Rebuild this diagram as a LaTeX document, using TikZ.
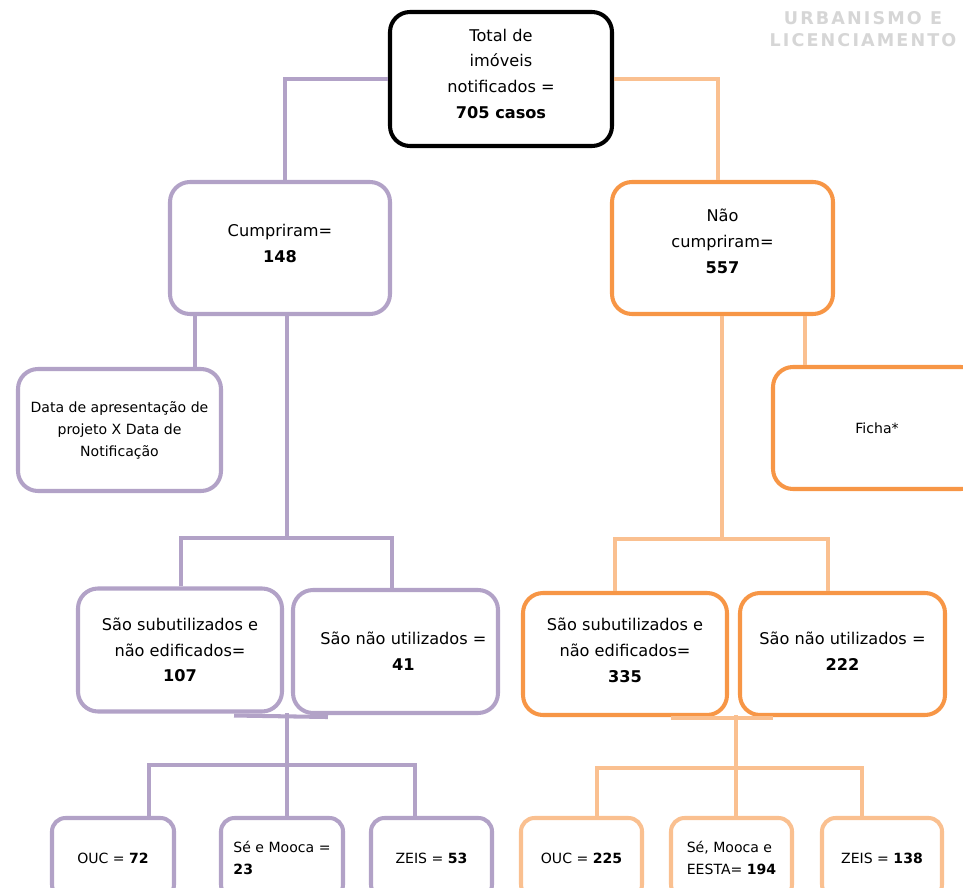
\documentclass[tikz,border=0pt]{standalone}
\usepackage{fontspec}
\setmainfont{DejaVu Sans}
\newfontfamily\stampfont[LetterSpace=12]{DejaVu Sans}
\usepackage{tikz}
\usetikzlibrary{calc}
\definecolor{lilac}{HTML}{B2A2C7}
\definecolor{tangerine}{HTML}{F79646}
\definecolor{peach}{HTML}{FAC090}
\newcommand{\boxFont}[0]{\fontsize{9.2}{14.6}\selectfont}
\newcommand{\smallFont}[0]{\fontsize{8}{12.5}\selectfont}

\begin{document}
\begin{tikzpicture}[x=0.02cm, y=-0.02cm]
  \tikzset{
    every node/.style={align=center, inner sep=0pt},
    wh/.style 2 args={minimum width=#1*0.02cm, minimum height=#2*0.02cm},
    card/.style={draw=#1, line width=2.3pt, rounded corners=0.4cm, fill=white, font=\boxFont},
    leaf/.style={card=#1, rounded corners=0.27cm, font=\smallFont},
    pline/.style={draw=lilac, line width=2.3pt},
    oline/.style={draw=peach, line width=2.3pt},
    stamp/.style={font={\stampfont\bfseries\fontsize{10}{12.5}\selectfont}, text=black!16}
  }
  \useasboundingbox (0,0) rectangle (963,888);

  \node[stamp] (stamp) at (863,29) {URBANISMO E\\LICENCIAMENTO};

  \node[card=black, wh={222}{134}] (T) at (501,79)
    {Total de\\imóveis\\notificados =\\\textbf{705 casos}\\[-8.5pt]};

  % cumpriram
  \node[card=lilac, wh={220}{132}] (C) at (280,248) {Cumpriram=\\\textbf{148}\\[-9pt]};
  \node[card=lilac, font=\smallFont, wh={203}{122}] (C-data) at (119.5,430)
    {Data de apresentação de\\projeto X Data de\\Notificação};
  \node[card=lilac, wh={204}{123}] (C-1) at (180,650)
    {São subutilizados e\\não edificados=\\\textbf{107}};
  \node[card=lilac, wh={205}{123}] (C-2) at (395.5,651.5)
    {\hspace{9pt}São não utilizados =\\\hspace{9pt}\textbf{41}};
  \node[leaf=lilac, wh={122}{80}] (C-1-1) at (113,858) {OUC = \textbf{72}};
  \node[leaf=lilac, wh={122}{80}, align=left] (C-1-2) at (282,858) {Sé e Mooca =\\\textbf{23}};
  \node[leaf=lilac, wh={121}{80}] (C-1-3) at (431.5,858) {ZEIS = \textbf{53}};

  % nao cumpriram
  \node[card=tangerine, wh={221}{132}] (N) at (722.5,248) {Não\\cumpriram=\\\textbf{557}\\[-6.8pt]};
  \node[card=tangerine, font=\smallFont, wh={208}{122}] (N-ficha) at (877,428) {Ficha*};
  \node[card=tangerine, wh={204}{122}] (N-1) at (625,654)
    {São subutilizados e\\não edificados=\\\textbf{335}\\[-10.2pt]};
  \node[card=tangerine, wh={205}{122}] (N-2) at (842.5,654)
    {São não utilizados =\\\textbf{222}\\[-11.8pt]};
  \node[leaf=peach, wh={121}{80}] (N-1-1) at (581.5,858) {OUC = \textbf{225}};
  \node[leaf=peach, wh={121}{80}, align=left] (N-1-2) at (731.5,858) {Sé, Mooca e\\EESTA= \textbf{194}};
  \node[leaf=peach, wh={120}{80}] (N-1-3) at (882,858) {ZEIS = \textbf{138}};

  \coordinate (C-fork) at (287,538);
  \coordinate (C-join) at (287,713);
  \coordinate (C-fork2) at (287,765);
  \coordinate (N-fork) at (722,539);
  \coordinate (N-join) at (736,715);
  \coordinate (N-fork2) at (736,768);

  \draw[pline] (T.west) -| (285,0 |- C.north);
  \draw[oline] (T.east) -| (718,0 |- N.north);

  \draw[pline] (195,0 |- C.south) -- (195,0 |- C-data.north);
  \draw[pline] (C-fork |- C.south) -- (C-fork);
  \draw[pline] (181,0 |- C-1.north) |- (C-fork) -| (392,0 |- C-2.north);
  \draw[pline] ($(C-1.south east)+(-50,2)$) -- ($(C-2.south west)+(37,2)$);
  \draw[pline] (C-join) -- (C-fork2);
  \draw[pline] (149,0 |- C-1-1.north) |- (C-fork2) -| (415,0 |- C-1-3.north);
  \draw[pline] (C-fork2) -- (C-fork2 |- C-1-2.north);

  \draw[oline] (805,0 |- N.south) -- (805,0 |- N-ficha.north);
  \draw[oline] (N-fork |- N.south) -- (N-fork);
  \draw[oline] (615,0 |- N-1.north) |- (N-fork) -| (828,0 |- N-2.north);
  \draw[oline] ($(N-1.south east)+(-58,1)$) -- ($(N-2.south west)+(35,1)$);
  \draw[oline] (N-join) -- (N-fork2);
  \draw[oline] (597,0 |- N-1-1.north) |- (N-fork2) -| (862,0 |- N-1-3.north);
  \draw[oline] (N-fork2) -- (N-fork2 |- N-1-2.north);
\end{tikzpicture}
\end{document}
